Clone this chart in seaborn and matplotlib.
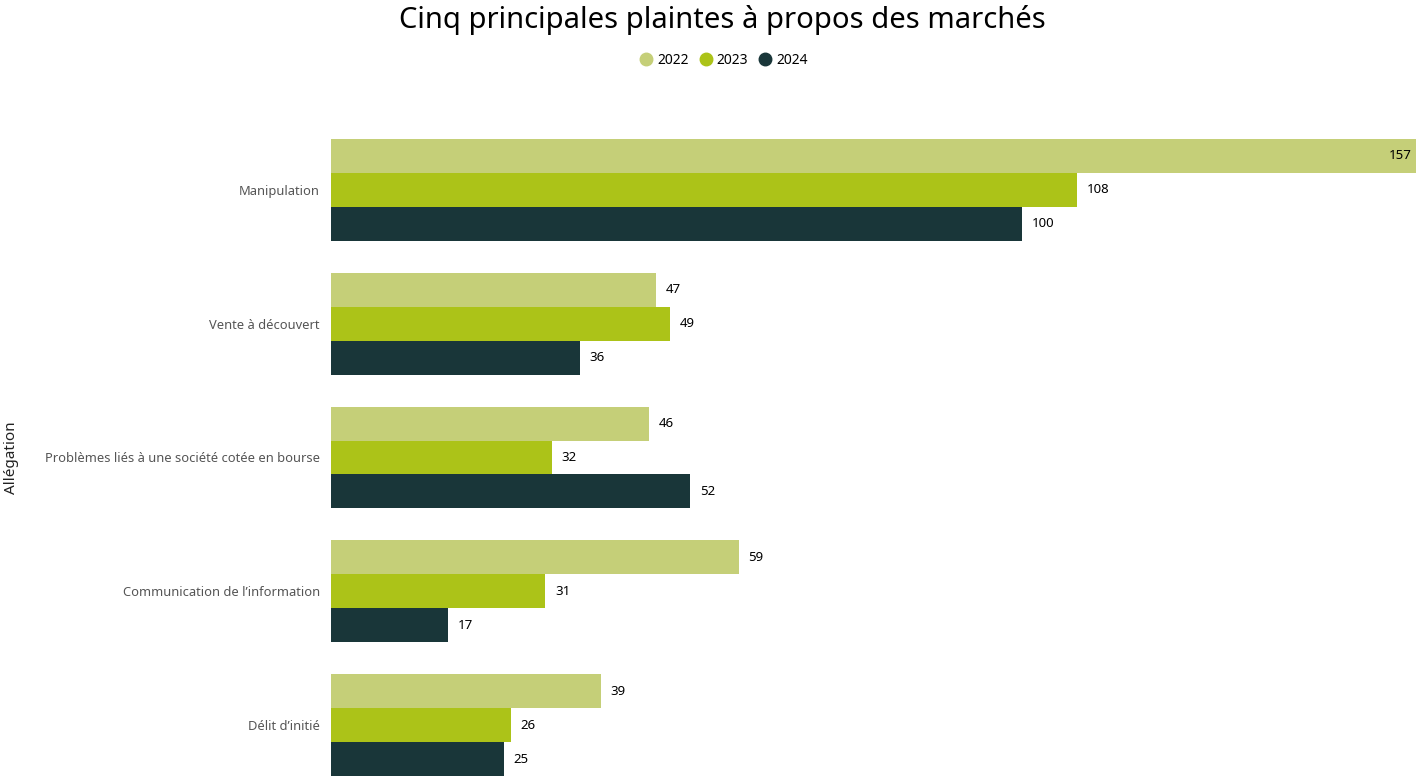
import matplotlib
matplotlib.use("Agg")
import matplotlib.pyplot as plt
import seaborn as sns
import pandas as pd
from matplotlib.lines import Line2D

plt.rcParams["font.family"] = "Noto Sans"

categories = ["Manipulation", "Vente à découvert", "Problèmes liés à une société cotée en bourse",
              "Communication de l’information", "Délit d’initié"]
years = ["2022", "2023", "2024"]
v2022 = [157, 47, 46, 59, 39]
v2023 = [108, 49, 32, 31, 26]
v2024 = [100, 36, 52, 17, 25]
colors = ["#c5cf78", "#acc318", "#193639"]

rows = []
for y, vals in zip(years, [v2022, v2023, v2024]):
    for c, v in zip(categories, vals):
        rows.append({"Allégation": c, "Année": y, "Valeur": v})
df = pd.DataFrame(rows)

fig = plt.figure(figsize=(14.2, 7.82), dpi=100)
ax = fig.add_axes([331/1420, 1-776/782, (1416-331)/1420, (776-139)/782])
sns.barplot(data=df, y="Allégation", x="Valeur", hue="Année", order=categories,
            hue_order=years, palette=colors, width=0.76, orient="h", ax=ax,
            saturation=1, legend=False, linewidth=0)
ax.set_xlim(0, 157)
ax.set_ylim(4.38, -0.38)
for cont in ax.containers:
    for bar in cont:
        w = bar.get_width()
        yc = bar.get_y() + bar.get_height()/2
        if w >= 150:
            ax.annotate(f"{int(w)}", (w, yc), xytext=(-3, 0), textcoords="offset points",
                        ha="right", va="center", fontsize=9.5, color="black")
        else:
            ax.annotate(f"{int(w)}", (w, yc), xytext=(7, 0), textcoords="offset points",
                        ha="left", va="center", fontsize=9.5, color="black")
for s in ax.spines.values():
    s.set_visible(False)
ax.set_xticks([])
ax.set_xlabel("")
ax.set_ylabel("")
ax.tick_params(axis="y", length=0, pad=8, labelsize=9.3, labelcolor="#555555")
fig.text(12/1420, 1-458/782, "Allégation", rotation=90, va="center", ha="center",
         fontsize=11, color="#222222")
fig.text(0.509, 1-20/782, "Cinq principales plaintes à propos des marchés", ha="center",
         va="center", fontsize=21, fontweight="medium", color="black")
handles = [Line2D([0], [0], marker="o", linestyle="", markersize=9, markerfacecolor=c,
                  markeredgecolor=c) for c in colors]
fig.legend(handles, years, loc="center", bbox_to_anchor=(0.507, 1-60/782), ncol=3,
           frameon=False, fontsize=10, handletextpad=-0.2, columnspacing=0.2)
fig.savefig("out.png", dpi=100)
